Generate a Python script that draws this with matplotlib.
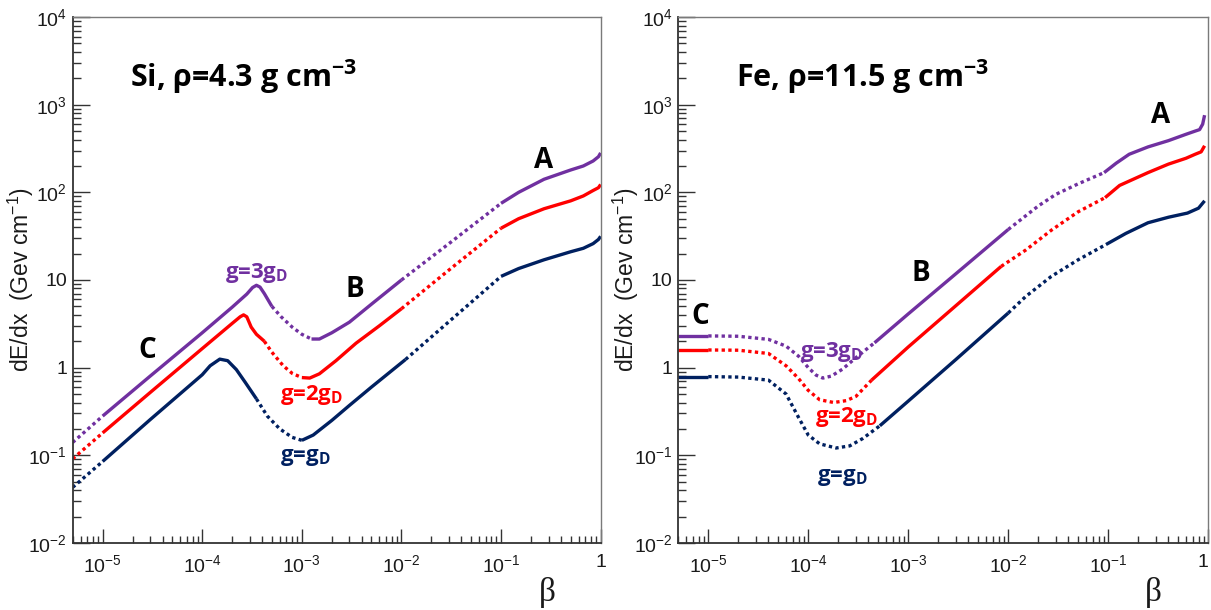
"""
dE/dx of a magnetic monopole versus beta, in silicon and in iron,
for three values of the magnetic charge.
"""

import matplotlib
matplotlib.use("Agg")
import matplotlib.pyplot as plt
import numpy as np
from matplotlib.ticker import FixedLocator, FixedFormatter, LogLocator, NullFormatter

plt.rcParams['font.family'] = ['Liberation Sans', 'DejaVu Sans']
plt.rcParams['mathtext.fontset'] = 'custom'
plt.rcParams['mathtext.rm'] = 'Liberation Sans'
plt.rcParams['mathtext.it'] = 'Liberation Sans:italic'
plt.rcParams['mathtext.bf'] = 'Open Sans:bold'

# ---- Si, rho = 4.3 g/cm3 ----
si_beta_3g = [5e-6, 1e-5, 3e-5, 1e-4, 2e-4, 2.8e-4, 3.2e-4, 3.5e-4, 3.8e-4, 4.2e-4,
              5e-4, 6.2e-4, 8e-4, 1e-3, 1.25e-3, 1.5e-3, 2e-3, 3e-3, 5e-3, 1e-2,
              3e-2, 1e-1, 0.15, 0.27, 0.5, 0.67, 0.84, 0.95, 1.0]
si_dedx_3g = [0.14, 0.28, 0.8, 2.5, 4.9, 6.9, 8.2, 8.7, 8.3, 7.0,
              5.0, 3.8, 2.9, 2.4, 2.12, 2.12, 2.5, 3.3, 5.3, 10,
              26, 75, 100, 141, 180, 200, 228, 255, 282]
si_dotted_3g = [(5e-6, 1e-5), (5e-4, 1.25e-3), (1e-2, 1e-1)]

si_beta_2g = [5e-6, 1e-5, 3e-5, 1e-4, 2e-4, 2.4e-4, 2.6e-4, 2.8e-4, 3.1e-4, 3.5e-4,
              4.2e-4, 5e-4, 6.5e-4, 8e-4, 1e-3, 1.2e-3, 1.5e-3, 2.2e-3, 3.5e-3, 6e-3,
              1e-2, 3e-2, 1e-1, 0.15, 0.27, 0.5, 0.67, 0.84, 0.95, 1.0]
si_dedx_2g = [0.091, 0.18, 0.52, 1.65, 3.2, 3.8, 4.0, 3.8, 2.9, 2.4,
              2.0, 1.5, 1.05, 0.86, 0.77, 0.76, 0.85, 1.2, 1.9, 3.0,
              4.7, 13, 39, 50, 65, 80, 91, 105, 113, 123]
si_dotted_2g = [(5e-6, 1e-5), (4.2e-4, 1e-3), (1e-2, 1e-1)]

si_beta_1g = [5e-6, 1e-5, 3e-5, 1e-4, 1.2e-4, 1.5e-4, 1.8e-4, 2.2e-4, 2.7e-4, 3.5e-4,
              4.5e-4, 6e-4, 8e-4, 1e-3, 1.3e-3, 2e-3, 3e-3, 5e-3, 1.1e-2, 3e-2,
              1e-1, 0.15, 0.27, 0.5, 0.67, 0.84, 0.95, 1.0]
si_dedx_1g = [0.043, 0.085, 0.255, 0.83, 1.05, 1.25, 1.2, 0.95, 0.68, 0.44,
              0.28, 0.2, 0.16, 0.148, 0.17, 0.25, 0.37, 0.6, 1.24, 3.35,
              11, 13.5, 17, 21, 23, 26, 29, 31.5]
si_dotted_1g = [(5e-6, 1e-5), (3.5e-4, 1e-3), (1.1e-2, 1e-1)]

# ---- Fe, rho = 11.5 g/cm3 ----
fe_beta_3g = [5e-6, 1e-5, 2e-5, 4e-5, 6e-5, 8e-5, 1e-4, 1.2e-4, 1.4e-4, 1.7e-4,
              2.2e-4, 3e-4, 4.6e-4, 1e-3, 3e-3, 1e-2, 2e-2, 3e-2, 5e-2, 9.1e-2,
              0.12, 0.162, 0.25, 0.4, 0.6, 0.74, 0.82, 0.88, 0.92]
fe_dedx_3g = [2.3, 2.3, 2.28, 2.1, 1.76, 1.35, 1.0, 0.82, 0.76, 0.8,
              0.96, 1.3, 1.92, 4.1, 11.8, 37.7, 70, 95, 125, 168,
              215, 272, 330, 389, 460, 500, 520, 600, 760]
fe_dotted_3g = [(1e-5, 4.6e-4), (1e-2, 9.1e-2)]

fe_beta_2g = [5e-6, 1e-5, 2e-5, 4e-5, 6e-5, 8e-5, 1e-4, 1.3e-4, 1.8e-4, 2.4e-4,
              3e-4, 4.3e-4, 1e-3, 3e-3, 8.5e-3, 1.5e-2, 2.7e-2, 5e-2, 9.3e-2, 0.13,
              0.25, 0.4, 0.6, 0.74, 0.85, 0.92]
fe_dedx_2g = [1.59, 1.59, 1.58, 1.45, 1.05, 0.75, 0.55, 0.43, 0.40, 0.42,
              0.47, 0.72, 1.72, 5.1, 14.3, 22, 37, 60, 87, 120,
              168, 210, 245, 272, 290, 340]
fe_dotted_2g = [(1e-5, 4.3e-4), (8.5e-3, 9.3e-2)]

fe_beta_1g = [5e-6, 1e-5, 2e-5, 4e-5, 6e-5, 8e-5, 1e-4, 1.3e-4, 1.9e-4, 2.6e-4,
              3.5e-4, 5.2e-4, 1e-3, 3e-3, 1e-2, 1.5e-2, 2.7e-2, 5e-2, 9.5e-2, 0.15,
              0.25, 0.4, 0.62, 0.8, 0.92]
fe_dedx_1g = [0.79, 0.79, 0.78, 0.72, 0.5, 0.27, 0.17, 0.135, 0.121, 0.128,
              0.155, 0.217, 0.415, 1.24, 4.2, 6.5, 11, 17, 25.4, 34,
              45, 52, 58, 66, 80]
fe_dotted_1g = [(1e-5, 5.2e-4), (1e-2, 9.5e-2)]

# axis ticks (ROOT style labels)
x_ticks = [1e-5, 1e-4, 1e-3, 1e-2, 1e-1, 1]
x_labels = ['$10^{-5}$', '$10^{-4}$', '$10^{-3}$', '$10^{-2}$', '$10^{-1}$', '1']
y_ticks = [1e-2, 1e-1, 1, 10, 1e2, 1e3, 1e4]
y_labels = ['$10^{-2}$', '$10^{-1}$', '1', '10', '$10^{2}$', '$10^{3}$', '$10^{4}$']

PURPLE = '#7030A0'
RED = '#FF0000'
NAVY = '#002060'
LW = 2.4
DOT = (0, (1, 1))


def draw_curve(ax, beta, dedx, dotted, color):
    """plot a curve, switching to a dotted line inside the given beta ranges"""
    beta = np.array(beta)
    dedx = np.array(dedx)
    mid = np.sqrt(beta[:-1] * beta[1:])
    is_dot = [any(lo <= m <= hi for lo, hi in dotted) for m in mid]
    start = 0
    for i in range(1, len(mid) + 1):
        if i == len(mid) or is_dot[i] != is_dot[start]:
            seg = slice(start, i + 1)
            ax.plot(beta[seg], dedx[seg], color=color, lw=LW,
                    ls=DOT if is_dot[start] else '-', solid_capstyle='butt')
            start = i


def style_axes(ax):
    ax.set_xscale('log')
    ax.set_yscale('log')
    ax.set_xlim(5e-6, 1)
    ax.set_ylim(1e-2, 1e4)
    ax.xaxis.set_major_locator(FixedLocator(x_ticks))
    ax.xaxis.set_major_formatter(FixedFormatter(x_labels))
    ax.yaxis.set_major_locator(FixedLocator(y_ticks))
    ax.yaxis.set_major_formatter(FixedFormatter(y_labels))
    ax.xaxis.set_minor_locator(LogLocator(base=10, subs=np.arange(2, 10), numticks=20))
    ax.yaxis.set_minor_locator(LogLocator(base=10, subs=np.arange(2, 10), numticks=20))
    ax.xaxis.set_minor_formatter(NullFormatter())
    ax.yaxis.set_minor_formatter(NullFormatter())
    ax.tick_params(axis='x', which='major', direction='in', length=10, width=1,
                   color='#333333', labelsize=14, pad=8, labelcolor='#1a1a1a')
    ax.tick_params(axis='x', which='minor', direction='in', length=5, width=1,
                   color='#333333')
    ax.tick_params(axis='y', which='major', direction='in', length=12, width=1,
                   color='#333333', labelsize=14, pad=4, labelcolor='#1a1a1a')
    ax.tick_params(axis='y', which='minor', direction='in', length=6, width=1,
                   color='#333333')
    for side in ['left', 'bottom']:
        ax.spines[side].set_color('#333333')
        ax.spines[side].set_linewidth(1.3)
    for side in ['top', 'right']:
        ax.spines[side].set_color('#7a7a7a')
        ax.spines[side].set_linewidth(1.0)


fig = plt.figure(figsize=(12.11, 6.10), dpi=100)
ax1 = fig.add_axes([0.060, 0.110, 0.436, 0.862])
ax2 = fig.add_axes([0.560, 0.110, 0.4377, 0.862])

title_font = dict(family=['Open Sans', 'DejaVu Sans'], fontweight='bold')

# left panel: Si
style_axes(ax1)
draw_curve(ax1, si_beta_3g, si_dedx_3g, si_dotted_3g, PURPLE)
draw_curve(ax1, si_beta_2g, si_dedx_2g, si_dotted_2g, RED)
draw_curve(ax1, si_beta_1g, si_dedx_1g, si_dotted_1g, NAVY)
ax1.text(0.1085, 0.867, r'Si, ρ=4.3 g cm$^{\mathbf{-3}}$', transform=ax1.transAxes,
         fontsize=22, va='baseline', ha='left', **title_font)
ax1.text(0.27, 230, 'A', fontsize=20, ha='center', va='center', **title_font)
ax1.text(3.4e-3, 7.7, 'B', fontsize=20, ha='center', va='center', **title_font)
ax1.text(2.8e-5, 1.58, 'C', fontsize=20, ha='center', va='center', **title_font)
ax1.text(3.5e-4, 12, r'g=3g$_{\mathbf{D}}$', color=PURPLE, fontsize=16,
         ha='center', va='center', **title_font)
ax1.text(1.26e-3, 0.49, r'g=2g$_{\mathbf{D}}$', color=RED, fontsize=16,
         ha='center', va='center', **title_font)
ax1.text(1.07e-3, 0.095, r'g=g$_{\mathbf{D}}$', color=NAVY, fontsize=16,
         ha='center', va='center', **title_font)

# right panel: Fe
style_axes(ax2)
draw_curve(ax2, fe_beta_3g, fe_dedx_3g, fe_dotted_3g, PURPLE)
draw_curve(ax2, fe_beta_2g, fe_dedx_2g, fe_dotted_2g, RED)
draw_curve(ax2, fe_beta_1g, fe_dedx_1g, fe_dotted_1g, NAVY)
# last x label sits on the figure edge: keep it inside
ax2.get_xticklabels()[-1].set_horizontalalignment('right')
ax2.text(0.1085, 0.867, r'Fe, ρ=11.5 g cm$^{\mathbf{-3}}$', transform=ax2.transAxes,
         fontsize=22, va='baseline', ha='left', **title_font)
ax2.text(0.33, 760, 'A', fontsize=20, ha='center', va='center', **title_font)
ax2.text(1.35e-3, 12, 'B', fontsize=20, ha='center', va='center', **title_font)
ax2.text(8.4e-6, 3.8, 'C', fontsize=20, ha='center', va='center', **title_font)
ax2.text(1.7e-4, 1.5, r'g=3g$_{\mathbf{D}}$', color=PURPLE, fontsize=16,
         ha='center', va='center', **title_font)
ax2.text(2.44e-4, 0.27, r'g=2g$_{\mathbf{D}}$', color=RED, fontsize=16,
         ha='center', va='center', **title_font)
ax2.text(2.2e-4, 0.056, r'g=g$_{\mathbf{D}}$', color=NAVY, fontsize=16,
         ha='center', va='center', **title_font)

# axis titles
for xc in [21 / 1211, 626 / 1211]:
    fig.text(xc, 1 - 280 / 610, 'dE/dx  (Gev cm$^{-1}$)', rotation=90,
             fontsize=16.5, ha='center', va='center', color='#1a1a1a')
for xc in [547 / 1211, 1153 / 1211]:
    fig.text(xc, 1 - 593 / 610, 'β', fontsize=24, ha='center', va='center',
             family=['Liberation Serif', 'DejaVu Serif'], color='#1a1a1a')

fig.savefig('out.png', dpi=100)
